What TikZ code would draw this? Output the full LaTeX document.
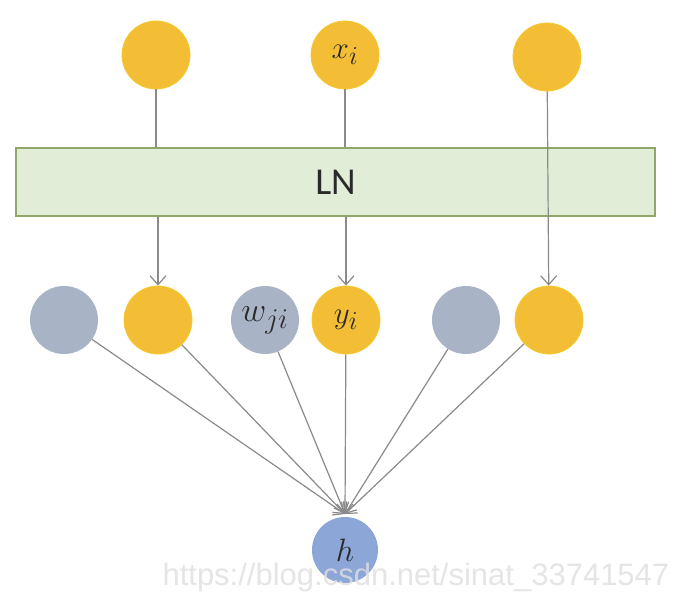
\documentclass[tikz,border=0pt]{standalone}
\usepackage{fontspec}
\usetikzlibrary{arrows.meta}
\newfontfamily\lnfont{Carlito}
\newfontfamily\wmfont{Liberation Sans}
\definecolor{ylw}{HTML}{F3BD35}
\definecolor{gry}{HTML}{A9B3C6}
\definecolor{hblue}{HTML}{8DA6D8}
\definecolor{lnfill}{HTML}{E2EDD8}
\definecolor{lnedge}{HTML}{8FA867}
\definecolor{arrgray}{HTML}{8A8A8A}
\definecolor{txt}{HTML}{2A2A2A}
\newcommand{\mymath}[2]{\scalebox{#1}{\fontsize{24.88}{30}\selectfont$#2$}}
\begin{document}
\begin{tikzpicture}[x=1pt,y=-1pt,
  ybub/.style={circle,fill=ylw,draw=ylw!80!yellow,line width=0.8pt,minimum size=68pt,inner sep=0pt,text=txt},
  gbub/.style={circle,fill=gry,minimum size=68pt,inner sep=0pt,text=txt},
  hbub/.style={circle,fill=hblue,minimum size=66pt,inner sep=0pt,text=txt},
  lnbox/.style={draw=lnedge,fill=lnfill,line width=2.5pt,minimum width=639pt,minimum height=68pt,inner sep=0pt,font=\lnfont\fontsize{38}{38}\selectfont,text=txt},
  conn/.style={draw=arrgray,line width=1.2pt},
  arr/.style={conn,-{Straight Barb[length=9pt,width=16pt,line width=1.2pt]}}]
\useasboundingbox (0,0) rectangle (686,602);
\fill[white] (0,0) rectangle (686,602);
% LN box
\node[lnbox] (ln) at (335.5,182) {LN};
% top row
\node[ybub] (t1) at (156,55) {};
\node[ybub] (t2) at (345,55) {\mymath{1.25}{x_i}};
\node[ybub] (t3) at (547,57) {};
% middle row
\node[gbub] (g1) at (64,320) {};
\node[ybub] (y1) at (158,320) {};
\node[gbub] (g2) at (265,320) {\mymath{1.38}{w_{ji}}};
\node[ybub] (y2) at (346,320) {\mymath{1.25}{y_i}};
\node[gbub] (g3) at (466,320) {};
\node[ybub] (y3) at (549,320) {};
% bottom
\node[hbub] (h) at (345,550) {\mymath{1.3}{h}};
\coordinate (hin) at (345,514);
% vertical connectors
\draw[conn] (t1) -- (t1 |- ln.north);
\draw[arr] (y1 |- ln.south) -- (y1);
\draw[conn] (t2) -- (t2 |- ln.north);
\draw[arr] (y2 |- ln.south) -- (y2);
\draw[arr] (t3) -- (y3);
% converging connectors
\foreach \n in {g1,y1,g2,y2,g3,y3}
  \draw[arr] (\n) -- (hin);
% watermark
\node[font=\wmfont\fontsize{31}{31}\selectfont,text=gray!25,opacity=0.8,anchor=west] (wm) at (159,577) {https://blog.csdn.net/sinat\_33741547};
\end{tikzpicture}
\end{document}
